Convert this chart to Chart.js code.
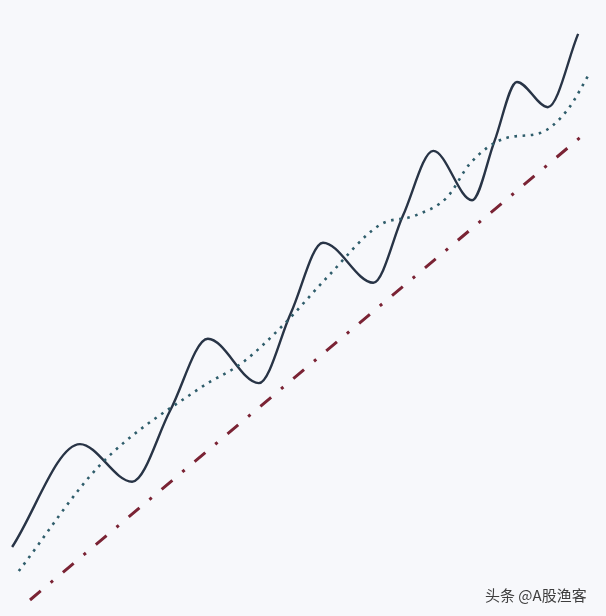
<!DOCTYPE html>
<html>
<head>
<meta charset="utf-8">
<script src="https://cdn.jsdelivr.net/npm/chart.js@4"></script>
<style>
  html, body { margin: 0; padding: 0; background: #f7f8fb; }
  #wrap { position: relative; width: 606px; height: 616px; }
  #mark {
    position: absolute; left: 485px; top: 584px;
    font: 15px "Noto Sans CJK SC", sans-serif; color: #3e3e3e;
    white-space: nowrap;
  }
</style>
</head>
<body>
<div id="wrap">
  <canvas id="chart" width="606" height="616"></canvas>
  <div id="mark">头条 @A股渔客</div>
</div>
<script>
// price swings (solid line): turning points plus mid-rise points
const priceX = [2.0, 13.2, 21.8, 28.1, 34.3, 42.7, 48.0, 53.3, 61.6, 66.5, 71.5, 77.9, 81.6, 85.3, 90.4, 95.4]
const priceY = [11.2, 27.9, 21.8, 33.4, 45.0, 37.8, 49.2, 60.6, 54.1, 65.0, 75.5, 67.5, 77.1, 86.7, 82.6, 94.5]

// moving average (dotted line)
const avgX = [3.1, 16.5, 33.0, 40.1, 46.7, 54.0, 62.7, 68.5, 73.8, 77.6, 83.5, 89.1, 93.6, 97.4]
const avgY = [7.3, 24.5, 37.0, 41.2, 47.2, 55.0, 63.5, 65.0, 68.0, 73.5, 77.6, 78.4, 82.1, 88.3]

// trend line (dash-dot)
const trendX = [4.95, 96.0]
const trendY = [2.6, 77.9]

const toPoints = (xs, ys) => xs.map((x, i) => ({ x: x, y: ys[i] }))

new Chart(document.getElementById("chart"), {
  type: "line",
  data: {
    datasets: [
      {
        data: toPoints(trendX, trendY),
        borderColor: "#7a2334",
        borderWidth: 3,
        borderDash: [14, 13, 3, 13],
        pointRadius: 0
      },
      {
        data: toPoints(avgX, avgY),
        borderColor: "#2f5d6b",
        borderWidth: 2.6,
        borderDash: [2.6, 5.6],
        cubicInterpolationMode: "monotone",
        pointRadius: 0
      },
      {
        data: toPoints(priceX, priceY),
        borderColor: "#283446",
        borderWidth: 2.4,
        cubicInterpolationMode: "monotone",
        pointRadius: 0
      }
    ]
  },
  options: {
    responsive: false,
    animation: false,
    layout: { padding: 0 },
    plugins: {
      legend: { display: false },
      tooltip: { enabled: false }
    },
    scales: {
      x: { type: "linear", min: 0, max: 100, display: false },
      y: { type: "linear", min: 0, max: 100, display: false }
    }
  }
})
</script>
</body>
</html>
